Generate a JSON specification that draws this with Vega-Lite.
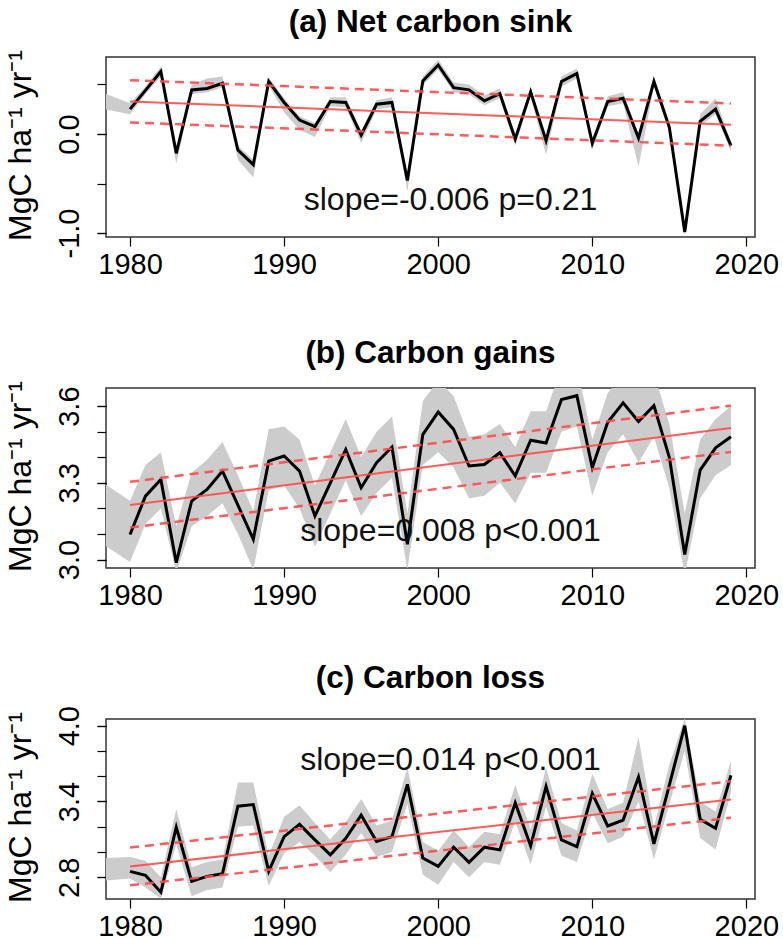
{
  "$schema": "https://vega.github.io/schema/vega-lite/v6.json",
  "background": "white",
  "padding": {"left": 3, "top": 6, "right": 5, "bottom": 2},
  "bounds": "flush",
  "spacing": 151,
  "config": {
    "font": "Liberation Sans",
    "view": {"stroke": "#333333", "strokeWidth": 1.5},
    "axis": {"domain": false, "grid": false, "ticks": true, "tickColor": "black", "tickWidth": 1.2, "tickSize": 9, "labelColor": "black", "labelFontSize": 29, "labelFont": "Liberation Sans", "titleFont": "Liberation Sans", "titleFontSize": 32, "titleFontWeight": "normal", "titleColor": "black", "labelFlush": false, "labelOverlap": false, "labelBound": false},
    "axisY": {"labelAngle": -90, "labelAlign": "center", "labelBaseline": "bottom", "labelPadding": 13, "titleX": -86, "titleY": 88, "titleAlign": "center", "titleBaseline": "middle", "titleAngle": -90},
    "axisX": {"labelPadding": 4, "labelAngle": 0, "labelBaseline": "top"},
    "title": {"fontSize": 31.5, "fontWeight": "bold", "anchor": "middle", "offset": 11, "color": "black", "font": "Liberation Sans"}
  },
  "datasets": {
    "series": [
      {"panel": "a", "year": 1978, "value": null, "lo": 0.26, "hi": 0.43},
      {"panel": "a", "year": 1980, "value": 0.251, "lo": 0.20, "hi": 0.31},
      {"panel": "a", "year": 1981, "value": 0.44, "lo": 0.40, "hi": 0.48},
      {"panel": "a", "year": 1982, "value": 0.63, "lo": 0.58, "hi": 0.68},
      {"panel": "a", "year": 1983, "value": -0.195, "lo": -0.30, "hi": -0.16},
      {"panel": "a", "year": 1984, "value": 0.445, "lo": 0.40, "hi": 0.50},
      {"panel": "a", "year": 1985, "value": 0.46, "lo": 0.42, "hi": 0.56},
      {"panel": "a", "year": 1986, "value": 0.512, "lo": 0.47, "hi": 0.58},
      {"panel": "a", "year": 1987, "value": -0.162, "lo": -0.26, "hi": -0.12},
      {"panel": "a", "year": 1988, "value": -0.31, "lo": -0.44, "hi": -0.26},
      {"panel": "a", "year": 1989, "value": 0.53, "lo": 0.49, "hi": 0.57},
      {"panel": "a", "year": 1990, "value": 0.318, "lo": 0.22, "hi": 0.36},
      {"panel": "a", "year": 1991, "value": 0.14, "lo": 0.04, "hi": 0.18},
      {"panel": "a", "year": 1992, "value": 0.074, "lo": -0.03, "hi": 0.11},
      {"panel": "a", "year": 1993, "value": 0.327, "lo": 0.28, "hi": 0.37},
      {"panel": "a", "year": 1994, "value": 0.318, "lo": 0.27, "hi": 0.37},
      {"panel": "a", "year": 1995, "value": -0.01, "lo": -0.09, "hi": 0.03},
      {"panel": "a", "year": 1996, "value": 0.30, "lo": 0.25, "hi": 0.34},
      {"panel": "a", "year": 1997, "value": 0.318, "lo": 0.27, "hi": 0.37},
      {"panel": "a", "year": 1998, "value": -0.469, "lo": -0.58, "hi": -0.43},
      {"panel": "a", "year": 1999, "value": 0.535, "lo": 0.49, "hi": 0.58},
      {"panel": "a", "year": 2000, "value": 0.696, "lo": 0.65, "hi": 0.75},
      {"panel": "a", "year": 2001, "value": 0.468, "lo": 0.42, "hi": 0.52},
      {"panel": "a", "year": 2002, "value": 0.445, "lo": 0.40, "hi": 0.50},
      {"panel": "a", "year": 2003, "value": 0.335, "lo": 0.29, "hi": 0.39},
      {"panel": "a", "year": 2004, "value": 0.408, "lo": 0.36, "hi": 0.46},
      {"panel": "a", "year": 2005, "value": -0.05, "lo": -0.12, "hi": -0.01},
      {"panel": "a", "year": 2006, "value": 0.425, "lo": 0.37, "hi": 0.47},
      {"panel": "a", "year": 2007, "value": -0.067, "lo": -0.21, "hi": -0.03},
      {"panel": "a", "year": 2008, "value": 0.53, "lo": 0.48, "hi": 0.58},
      {"panel": "a", "year": 2009, "value": 0.61, "lo": 0.56, "hi": 0.66},
      {"panel": "a", "year": 2010, "value": -0.094, "lo": -0.16, "hi": -0.05},
      {"panel": "a", "year": 2011, "value": 0.328, "lo": 0.28, "hi": 0.38},
      {"panel": "a", "year": 2012, "value": 0.361, "lo": 0.31, "hi": 0.42},
      {"panel": "a", "year": 2013, "value": -0.04, "lo": -0.33, "hi": 0.00},
      {"panel": "a", "year": 2014, "value": 0.53, "lo": 0.48, "hi": 0.57},
      {"panel": "a", "year": 2015, "value": 0.068, "lo": 0.02, "hi": 0.11},
      {"panel": "a", "year": 2016, "value": -0.989, "lo": -1.02, "hi": -0.95},
      {"panel": "a", "year": 2017, "value": 0.127, "lo": 0.08, "hi": 0.20},
      {"panel": "a", "year": 2018, "value": 0.251, "lo": 0.20, "hi": 0.36},
      {"panel": "a", "year": 2019, "value": -0.118, "lo": -0.18, "hi": -0.08},

      {"panel": "b", "year": 1978, "value": null, "lo": 3.07, "hi": 3.31},
      {"panel": "b", "year": 1980, "value": 3.098, "lo": 2.99, "hi": 3.23},
      {"panel": "b", "year": 1981, "value": 3.248, "lo": 3.14, "hi": 3.37},
      {"panel": "b", "year": 1982, "value": 3.313, "lo": 3.20, "hi": 3.42},
      {"panel": "b", "year": 1983, "value": 2.988, "lo": 2.95, "hi": 3.13},
      {"panel": "b", "year": 1984, "value": 3.229, "lo": 3.13, "hi": 3.34},
      {"panel": "b", "year": 1985, "value": 3.274, "lo": 3.17, "hi": 3.39},
      {"panel": "b", "year": 1986, "value": 3.346, "lo": 3.22, "hi": 3.46},
      {"panel": "b", "year": 1987, "value": 3.213, "lo": 3.10, "hi": 3.33},
      {"panel": "b", "year": 1988, "value": 3.079, "lo": 2.96, "hi": 3.19},
      {"panel": "b", "year": 1989, "value": 3.385, "lo": 3.27, "hi": 3.51},
      {"panel": "b", "year": 1990, "value": 3.405, "lo": 3.29, "hi": 3.52},
      {"panel": "b", "year": 1991, "value": 3.346, "lo": 3.20, "hi": 3.47},
      {"panel": "b", "year": 1992, "value": 3.17, "lo": 3.05, "hi": 3.29},
      {"panel": "b", "year": 1993, "value": 3.30, "lo": 3.18, "hi": 3.42},
      {"panel": "b", "year": 1994, "value": 3.43, "lo": 3.31, "hi": 3.55},
      {"panel": "b", "year": 1995, "value": 3.281, "lo": 3.17, "hi": 3.40},
      {"panel": "b", "year": 1996, "value": 3.379, "lo": 3.26, "hi": 3.50},
      {"panel": "b", "year": 1997, "value": 3.44, "lo": 3.32, "hi": 3.56},
      {"panel": "b", "year": 1998, "value": 3.06, "lo": 2.96, "hi": 3.18},
      {"panel": "b", "year": 1999, "value": 3.489, "lo": 3.37, "hi": 3.62},
      {"panel": "b", "year": 2000, "value": 3.577, "lo": 3.42, "hi": 3.70},
      {"panel": "b", "year": 2001, "value": 3.509, "lo": 3.36, "hi": 3.64},
      {"panel": "b", "year": 2002, "value": 3.366, "lo": 3.24, "hi": 3.48},
      {"panel": "b", "year": 2003, "value": 3.372, "lo": 3.25, "hi": 3.49},
      {"panel": "b", "year": 2004, "value": 3.418, "lo": 3.30, "hi": 3.53},
      {"panel": "b", "year": 2005, "value": 3.327, "lo": 3.22, "hi": 3.44},
      {"panel": "b", "year": 2006, "value": 3.467, "lo": 3.34, "hi": 3.58},
      {"panel": "b", "year": 2007, "value": 3.456, "lo": 3.34, "hi": 3.58},
      {"panel": "b", "year": 2008, "value": 3.626, "lo": 3.50, "hi": 3.75},
      {"panel": "b", "year": 2009, "value": 3.641, "lo": 3.52, "hi": 3.76},
      {"panel": "b", "year": 2010, "value": 3.36, "lo": 3.25, "hi": 3.47},
      {"panel": "b", "year": 2011, "value": 3.537, "lo": 3.42, "hi": 3.65},
      {"panel": "b", "year": 2012, "value": 3.613, "lo": 3.49, "hi": 3.73},
      {"panel": "b", "year": 2013, "value": 3.54, "lo": 3.38, "hi": 3.68},
      {"panel": "b", "year": 2014, "value": 3.602, "lo": 3.48, "hi": 3.73},
      {"panel": "b", "year": 2015, "value": 3.40, "lo": 3.28, "hi": 3.53},
      {"panel": "b", "year": 2016, "value": 3.02, "lo": 2.94, "hi": 3.18},
      {"panel": "b", "year": 2017, "value": 3.35, "lo": 3.24, "hi": 3.47},
      {"panel": "b", "year": 2018, "value": 3.437, "lo": 3.33, "hi": 3.55},
      {"panel": "b", "year": 2019, "value": 3.48, "lo": 3.37, "hi": 3.60},

      {"panel": "c", "year": 1978, "value": null, "lo": 2.77, "hi": 2.95},
      {"panel": "c", "year": 1980, "value": 2.847, "lo": 2.79, "hi": 2.96},
      {"panel": "c", "year": 1981, "value": 2.816, "lo": 2.72, "hi": 2.93},
      {"panel": "c", "year": 1982, "value": 2.682, "lo": 2.63, "hi": 2.80},
      {"panel": "c", "year": 1983, "value": 3.196, "lo": 3.06, "hi": 3.34},
      {"panel": "c", "year": 1984, "value": 2.768, "lo": 2.65, "hi": 2.88},
      {"panel": "c", "year": 1985, "value": 2.807, "lo": 2.70, "hi": 2.92},
      {"panel": "c", "year": 1986, "value": 2.828, "lo": 2.72, "hi": 2.94},
      {"panel": "c", "year": 1987, "value": 3.363, "lo": 3.20, "hi": 3.55},
      {"panel": "c", "year": 1988, "value": 3.376, "lo": 3.21, "hi": 3.55},
      {"panel": "c", "year": 1989, "value": 2.847, "lo": 2.73, "hi": 2.97},
      {"panel": "c", "year": 1990, "value": 3.122, "lo": 2.99, "hi": 3.28},
      {"panel": "c", "year": 1991, "value": 3.219, "lo": 3.08, "hi": 3.37},
      {"panel": "c", "year": 1992, "value": 3.096, "lo": 2.97, "hi": 3.23},
      {"panel": "c", "year": 1993, "value": 2.978, "lo": 2.84, "hi": 3.10},
      {"panel": "c", "year": 1994, "value": 3.109, "lo": 2.98, "hi": 3.24},
      {"panel": "c", "year": 1995, "value": 3.292, "lo": 3.15, "hi": 3.42},
      {"panel": "c", "year": 1996, "value": 3.083, "lo": 2.96, "hi": 3.21},
      {"panel": "c", "year": 1997, "value": 3.122, "lo": 3.00, "hi": 3.25},
      {"panel": "c", "year": 1998, "value": 3.536, "lo": 3.38, "hi": 3.67},
      {"panel": "c", "year": 1999, "value": 2.952, "lo": 2.82, "hi": 3.08},
      {"panel": "c", "year": 2000, "value": 2.886, "lo": 2.74, "hi": 3.01},
      {"panel": "c", "year": 2001, "value": 3.038, "lo": 2.92, "hi": 3.17},
      {"panel": "c", "year": 2002, "value": 2.918, "lo": 2.80, "hi": 3.04},
      {"panel": "c", "year": 2003, "value": 3.038, "lo": 2.92, "hi": 3.16},
      {"panel": "c", "year": 2004, "value": 3.017, "lo": 2.90, "hi": 3.14},
      {"panel": "c", "year": 2005, "value": 3.389, "lo": 3.24, "hi": 3.53},
      {"panel": "c", "year": 2006, "value": 3.048, "lo": 2.90, "hi": 3.18},
      {"panel": "c", "year": 2007, "value": 3.52, "lo": 3.36, "hi": 3.67},
      {"panel": "c", "year": 2008, "value": 3.096, "lo": 2.97, "hi": 3.23},
      {"panel": "c", "year": 2009, "value": 3.043, "lo": 2.92, "hi": 3.17},
      {"panel": "c", "year": 2010, "value": 3.463, "lo": 3.31, "hi": 3.62},
      {"panel": "c", "year": 2011, "value": 3.206, "lo": 3.07, "hi": 3.34},
      {"panel": "c", "year": 2012, "value": 3.253, "lo": 3.12, "hi": 3.39},
      {"panel": "c", "year": 2013, "value": 3.594, "lo": 3.40, "hi": 3.91},
      {"panel": "c", "year": 2014, "value": 3.064, "lo": 2.94, "hi": 3.20},
      {"panel": "c", "year": 2015, "value": 3.53, "lo": 3.38, "hi": 3.69},
      {"panel": "c", "year": 2016, "value": 4.00, "lo": 3.80, "hi": 4.06},
      {"panel": "c", "year": 2017, "value": 3.259, "lo": 3.11, "hi": 3.40},
      {"panel": "c", "year": 2018, "value": 3.188, "lo": 3.02, "hi": 3.32},
      {"panel": "c", "year": 2019, "value": 3.607, "lo": 3.47, "hi": 3.72}
    ],
    "trend": [
      {"panel": "a", "kind": "fit", "year": 1980, "value": 0.328},
      {"panel": "a", "kind": "fit", "year": 2019, "value": 0.093},
      {"panel": "a", "kind": "upper", "year": 1980, "value": 0.543},
      {"panel": "a", "kind": "upper", "year": 2019, "value": 0.308},
      {"panel": "a", "kind": "lower", "year": 1980, "value": 0.117},
      {"panel": "a", "kind": "lower", "year": 2019, "value": -0.118},
      {"panel": "b", "kind": "fit", "year": 1980, "value": 3.213},
      {"panel": "b", "kind": "fit", "year": 2019, "value": 3.515},
      {"panel": "b", "kind": "upper", "year": 1980, "value": 3.304},
      {"panel": "b", "kind": "upper", "year": 2019, "value": 3.602},
      {"panel": "b", "kind": "lower", "year": 1980, "value": 3.125},
      {"panel": "b", "kind": "lower", "year": 2019, "value": 3.421},
      {"panel": "c", "kind": "fit", "year": 1980, "value": 2.886},
      {"panel": "c", "kind": "fit", "year": 2019, "value": 3.416},
      {"panel": "c", "kind": "upper", "year": 1980, "value": 3.035},
      {"panel": "c", "kind": "upper", "year": 2019, "value": 3.56},
      {"panel": "c", "kind": "lower", "year": 1980, "value": 2.736},
      {"panel": "c", "kind": "lower", "year": 2019, "value": 3.271}
    ],
    "labels": [
      {"panel": "a", "year": 2000.8, "value": -0.67, "label": "slope=-0.006 p=0.21"},
      {"panel": "b", "year": 2000.8, "value": 3.113, "label": "slope=0.008 p<0.001"},
      {"panel": "c", "year": 2000.8, "value": 3.725, "label": "slope=0.014 p<0.001"}
    ]
  },
  "vconcat": [
    {
      "width": 649, "height": 180,
      "title": "(a) Net carbon sink",
      "resolve": {"axis": {"y": "independent"}},
      "layer": [
        {
          "data": {"name": "series"},
          "transform": [{"filter": "datum.panel == 'a'"}],
          "mark": {"type": "area", "color": "#cccccc", "clip": true, "opacity": 1},
          "encoding": {
            "x": {"field": "year", "type": "quantitative", "scale": {"domain": [1978.44, 2020.56], "nice": false, "zero": false}, "title": null, "axis": {"values": [1980, 1990, 2000, 2010, 2020], "format": "d"}},
            "y": {"field": "lo", "type": "quantitative", "scale": {"domain": [-1.04, 0.777], "nice": false, "zero": false}, "title": "MgC ha⁻¹ yr⁻¹", "axis": {"orient": "left", "values": [-1, 0], "labelExpr": "datum.value < 0 ? '-' + format(abs(datum.value), '.1f') : format(datum.value, '.1f')"}},
            "y2": {"field": "hi"}
          }
        },
        {
          "data": {"name": "series"},
          "transform": [{"filter": "datum.panel == 'a' && datum.value != null"}],
          "mark": {"type": "line", "color": "black", "strokeWidth": 3},
          "encoding": {
            "x": {"field": "year", "type": "quantitative", "title": null},
            "y": {"field": "value", "type": "quantitative", "title": null, "axis": {"orient": "left", "values": [-1, -0.5, 0, 0.5], "labels": false}}
          }
        },
        {
          "data": {"name": "trend"},
          "transform": [{"filter": "datum.panel == 'a' && datum.kind == 'fit'"}],
          "mark": {"type": "line", "color": "#ff4a4a", "strokeWidth": 2, "opacity": 0.9},
          "encoding": {
            "x": {"field": "year", "type": "quantitative", "title": null},
            "y": {"field": "value", "type": "quantitative", "axis": null}
          }
        },
        {
          "data": {"name": "trend"},
          "transform": [{"filter": "datum.panel == 'a' && datum.kind != 'fit'"}],
          "mark": {"type": "line", "color": "#ff4a4a", "strokeWidth": 2.5, "strokeDash": [9, 6], "opacity": 0.9},
          "encoding": {
            "x": {"field": "year", "type": "quantitative", "title": null},
            "y": {"field": "value", "type": "quantitative", "axis": null},
            "detail": {"field": "kind"}
          }
        },
        {
          "data": {"name": "labels"},
          "transform": [{"filter": "datum.panel == 'a'"}],
          "mark": {"type": "text", "fontSize": 32, "color": "#111111", "align": "center", "baseline": "middle"},
          "encoding": {
            "x": {"field": "year", "type": "quantitative", "title": null},
            "y": {"field": "value", "type": "quantitative", "axis": null},
            "text": {"field": "label"}
          }
        }
      ]
    },
    {
      "width": 649, "height": 180,
      "title": "(b) Carbon gains",
      "resolve": {"axis": {"y": "independent"}},
      "layer": [
        {
          "data": {"name": "series"},
          "transform": [{"filter": "datum.panel == 'b'"}],
          "mark": {"type": "area", "color": "#cccccc", "clip": true, "opacity": 1},
          "encoding": {
            "x": {"field": "year", "type": "quantitative", "scale": {"domain": [1978.44, 2020.56], "nice": false, "zero": false}, "title": null, "axis": {"values": [1980, 1990, 2000, 2010, 2020], "format": "d"}},
            "y": {"field": "lo", "type": "quantitative", "scale": {"domain": [2.967, 3.671], "nice": false, "zero": false}, "title": "MgC ha⁻¹ yr⁻¹", "axis": {"orient": "left", "values": [3.0, 3.3, 3.6], "format": ".1f"}},
            "y2": {"field": "hi"}
          }
        },
        {
          "data": {"name": "series"},
          "transform": [{"filter": "datum.panel == 'b' && datum.value != null"}],
          "mark": {"type": "line", "color": "black", "strokeWidth": 3},
          "encoding": {
            "x": {"field": "year", "type": "quantitative", "title": null},
            "y": {"field": "value", "type": "quantitative", "title": null, "axis": {"orient": "left", "values": [3.0, 3.1, 3.2, 3.3, 3.4, 3.5, 3.6], "labels": false}}
          }
        },
        {
          "data": {"name": "trend"},
          "transform": [{"filter": "datum.panel == 'b' && datum.kind == 'fit'"}],
          "mark": {"type": "line", "color": "#ff4a4a", "strokeWidth": 2, "opacity": 0.9},
          "encoding": {
            "x": {"field": "year", "type": "quantitative", "title": null},
            "y": {"field": "value", "type": "quantitative", "axis": null}
          }
        },
        {
          "data": {"name": "trend"},
          "transform": [{"filter": "datum.panel == 'b' && datum.kind != 'fit'"}],
          "mark": {"type": "line", "color": "#ff4a4a", "strokeWidth": 2.5, "strokeDash": [9, 6], "opacity": 0.9},
          "encoding": {
            "x": {"field": "year", "type": "quantitative", "title": null},
            "y": {"field": "value", "type": "quantitative", "axis": null},
            "detail": {"field": "kind"}
          }
        },
        {
          "data": {"name": "labels"},
          "transform": [{"filter": "datum.panel == 'b'"}],
          "mark": {"type": "text", "fontSize": 32, "color": "#111111", "align": "center", "baseline": "middle"},
          "encoding": {
            "x": {"field": "year", "type": "quantitative", "title": null},
            "y": {"field": "value", "type": "quantitative", "axis": null},
            "text": {"field": "label"}
          }
        }
      ]
    },
    {
      "width": 649, "height": 180,
      "title": "(c) Carbon loss",
      "resolve": {"axis": {"y": "independent"}},
      "layer": [
        {
          "data": {"name": "series"},
          "transform": [{"filter": "datum.panel == 'c'"}],
          "mark": {"type": "area", "color": "#cccccc", "clip": true, "opacity": 1},
          "encoding": {
            "x": {"field": "year", "type": "quantitative", "scale": {"domain": [1978.44, 2020.56], "nice": false, "zero": false}, "title": null, "axis": {"values": [1980, 1990, 2000, 2010, 2020], "format": "d"}},
            "y": {"field": "lo", "type": "quantitative", "scale": {"domain": [2.628, 4.053], "nice": false, "zero": false}, "title": "MgC ha⁻¹ yr⁻¹", "axis": {"orient": "left", "values": [2.8, 3.4, 4.0], "format": ".1f"}},
            "y2": {"field": "hi"}
          }
        },
        {
          "data": {"name": "series"},
          "transform": [{"filter": "datum.panel == 'c' && datum.value != null"}],
          "mark": {"type": "line", "color": "black", "strokeWidth": 3},
          "encoding": {
            "x": {"field": "year", "type": "quantitative", "title": null},
            "y": {"field": "value", "type": "quantitative", "title": null, "axis": {"orient": "left", "values": [2.8, 3.0, 3.2, 3.4, 3.6, 3.8, 4.0], "labels": false}}
          }
        },
        {
          "data": {"name": "trend"},
          "transform": [{"filter": "datum.panel == 'c' && datum.kind == 'fit'"}],
          "mark": {"type": "line", "color": "#ff4a4a", "strokeWidth": 2, "opacity": 0.9},
          "encoding": {
            "x": {"field": "year", "type": "quantitative", "title": null},
            "y": {"field": "value", "type": "quantitative", "axis": null}
          }
        },
        {
          "data": {"name": "trend"},
          "transform": [{"filter": "datum.panel == 'c' && datum.kind != 'fit'"}],
          "mark": {"type": "line", "color": "#ff4a4a", "strokeWidth": 2.5, "strokeDash": [9, 6], "opacity": 0.9},
          "encoding": {
            "x": {"field": "year", "type": "quantitative", "title": null},
            "y": {"field": "value", "type": "quantitative", "axis": null},
            "detail": {"field": "kind"}
          }
        },
        {
          "data": {"name": "labels"},
          "transform": [{"filter": "datum.panel == 'c'"}],
          "mark": {"type": "text", "fontSize": 32, "color": "#111111", "align": "center", "baseline": "middle"},
          "encoding": {
            "x": {"field": "year", "type": "quantitative", "title": null},
            "y": {"field": "value", "type": "quantitative", "axis": null},
            "text": {"field": "label"}
          }
        }
      ]
    }
  ]
}
